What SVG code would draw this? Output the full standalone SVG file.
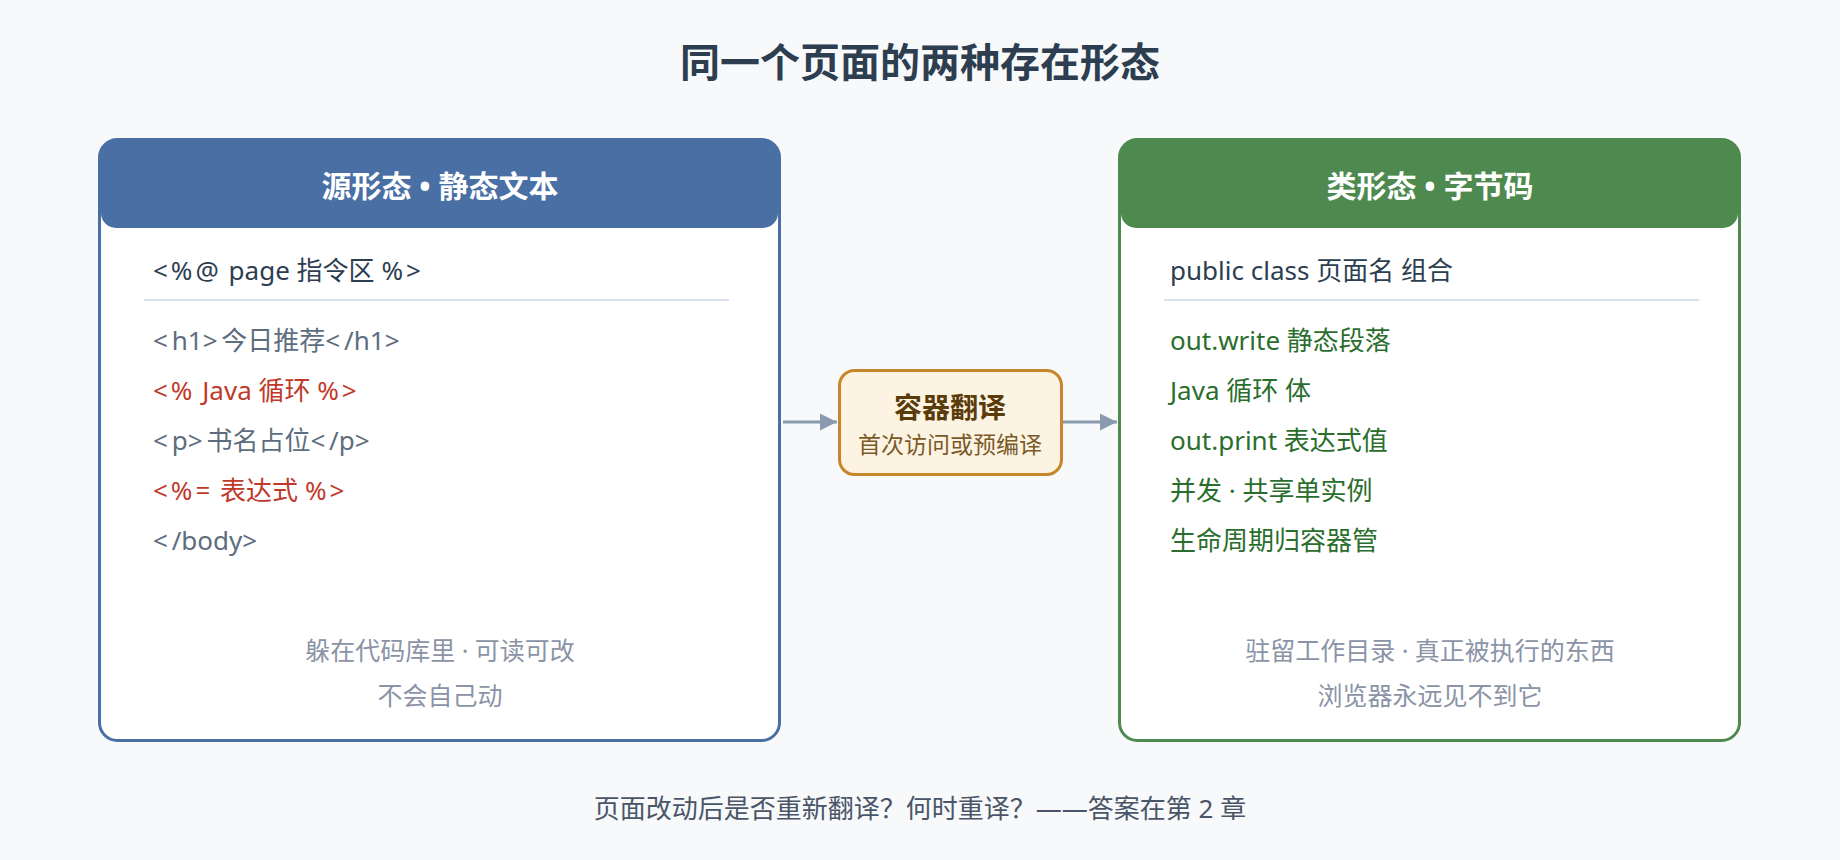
<svg xmlns="http://www.w3.org/2000/svg" width="1840" height="860" viewBox="0 0 1840 860">
  <defs>
    <marker id="arrow" markerUnits="userSpaceOnUse" markerWidth="18" markerHeight="18" viewBox="0 0 18 18" refX="17" refY="9" orient="auto">
      <path d="M0,0.5 L17,9 L0,17.5 Z" fill="#8a9bb0"/>
    </marker>
  </defs>
  <style>
    text { font-family: "Noto Sans", "Noto Sans CJK SC", sans-serif; }
    .title { font-size: 40px; font-weight: 700; fill: #2c3e50; }
    .hdr { font-size: 30px; font-weight: 700; fill: #ffffff; }
    .top { font-size: 26px; fill: #2c3e50; }
    .html { font-size: 26px; fill: #5d6d7e; }
    .java { font-size: 26px; fill: #c0392b; }
    .cls { font-size: 26px; fill: #2a6e2d; }
    .foot { font-size: 25px; fill: #8a94a6; }
    .note { font-size: 26px; fill: #4a5568; }
    .b { letter-spacing: 3px; }
    .bb { letter-spacing: 3.8px; }
    .sep { stroke: #d8e2ec; stroke-width: 2; }
    .conn { stroke: #8a9bb0; stroke-width: 3; fill: none; }
  </style>
  <rect x="0" y="0" width="1840" height="860" fill="#f7f9fb"/>
  <text class="title" x="920" y="77" text-anchor="middle">同一个页面的两种存在形态</text>

  <g id="source-form">
    <rect x="99.5" y="139.5" width="680" height="601" rx="18" fill="#ffffff"/>
    <rect x="101" y="139" width="677" height="89" rx="15" fill="#4a6fa5"/>
    <rect x="99.5" y="139.5" width="680" height="601" rx="18" fill="none" stroke="#4a6fa5" stroke-width="3"/>
    <text class="hdr" x="440" y="197" text-anchor="middle">源形态 • 静态文本</text>
    <text class="top" x="153" y="280"><tspan class="b">&lt;%@</tspan> page 指令区 <tspan class="b">%&gt;</tspan></text>
    <line class="sep" x1="144" y1="300" x2="729" y2="300"/>
    <text class="html" x="153" y="350"><tspan class="bb">&lt;</tspan>h1<tspan class="bb">&gt;</tspan>今日推荐<tspan class="bb">&lt;</tspan>/h1<tspan class="bb">&gt;</tspan></text>
    <text class="java" x="153" y="400"><tspan class="b">&lt;%</tspan> Java 循环 <tspan class="b">%&gt;</tspan></text>
    <text class="html" x="153" y="450"><tspan class="bb">&lt;</tspan>p<tspan class="bb">&gt;</tspan>书名占位<tspan class="bb">&lt;</tspan>/p<tspan class="bb">&gt;</tspan></text>
    <text class="java" x="153" y="500"><tspan class="b">&lt;%=</tspan> 表达式 <tspan class="b">%&gt;</tspan></text>
    <text class="html" x="153" y="550"><tspan class="bb">&lt;</tspan>/body<tspan class="bb">&gt;</tspan></text>
    <text class="foot" x="440" y="660" text-anchor="middle">躲在代码库里 · 可读可改</text>
    <text class="foot" x="440" y="705" text-anchor="middle">不会自己动</text>
  </g>

  <g id="translate">
    <rect x="839.5" y="370.5" width="222" height="104" rx="15" fill="#fdf3e2" stroke="#c8862a" stroke-width="3"/>
    <text x="950" y="418" text-anchor="middle" style="font-size:28px;font-weight:700;fill:#5a3c0c">容器翻译</text>
    <text x="950" y="453" text-anchor="middle" style="font-size:23px;fill:#7a5a28">首次访问或预编译</text>
  </g>

  <g id="class-form">
    <rect x="1119.5" y="139.5" width="620" height="601" rx="18" fill="#ffffff"/>
    <rect x="1121" y="139" width="617" height="89" rx="15" fill="#4e8a4f"/>
    <rect x="1119.5" y="139.5" width="620" height="601" rx="18" fill="none" stroke="#4e8a4f" stroke-width="3"/>
    <text class="hdr" x="1430" y="197" text-anchor="middle">类形态 • 字节码</text>
    <text class="top" x="1170" y="280">public class 页面名 组合</text>
    <line class="sep" x1="1164" y1="300" x2="1699" y2="300"/>
    <text class="cls" x="1170" y="350">out.write 静态段落</text>
    <text class="cls" x="1170" y="400">Java 循环 体</text>
    <text class="cls" x="1170" y="450">out.print 表达式值</text>
    <text class="cls" x="1170" y="500">并发 · 共享单实例</text>
    <text class="cls" x="1170" y="550">生命周期归容器管</text>
    <text class="foot" x="1430" y="660" text-anchor="middle">驻留工作目录 · 真正被执行的东西</text>
    <text class="foot" x="1430" y="705" text-anchor="middle">浏览器永远见不到它</text>
  </g>

  <g id="connectors">
    <line class="conn" x1="783" y1="422" x2="837" y2="422" marker-end="url(#arrow)"/>
    <line class="conn" x1="1063" y1="422" x2="1117" y2="422" marker-end="url(#arrow)"/>
  </g>

  <text class="note" x="920" y="818" text-anchor="middle">页面改动后是否重新翻译？何时重译？——答案在第 2 章</text>
</svg>
